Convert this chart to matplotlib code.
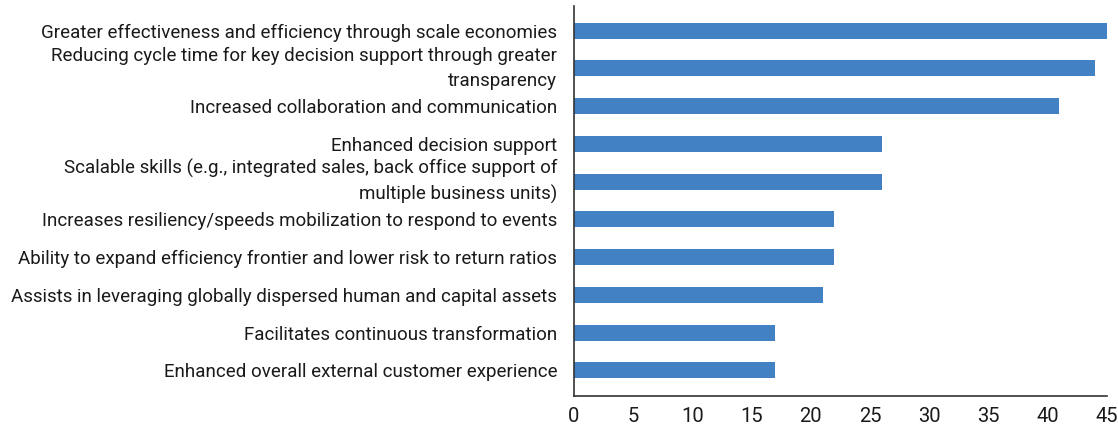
import matplotlib
matplotlib.use("Agg")
import matplotlib.pyplot as plt
from matplotlib import font_manager

categories = [
    "Greater effectiveness and efficiency through scale economies",
    "Reducing cycle time for key decision support through greater\ntransparency",
    "Increased collaboration and communication",
    "Enhanced decision support",
    "Scalable skills (e.g., integrated sales, back office support of\nmultiple business units)",
    "Increases resiliency/speeds mobilization to respond to events",
    "Ability to expand efficiency frontier and lower risk to return ratios",
    "Assists in leveraging globally dispersed human and capital assets",
    "Facilitates continuous transformation",
    "Enhanced overall external customer experience",
]
values = [45, 44, 41, 26, 26, 22, 22, 21, 17, 17]
xticks = [0, 5, 10, 15, 20, 25, 30, 35, 40, 45]

names = {f.name for f in font_manager.fontManager.ttflist}
family = "Liberation Sans Narrow" if "Liberation Sans Narrow" in names else (
    "Roboto" if "Roboto" in names else "Liberation Sans")
plt.rcParams["font.family"] = [family, "DejaVu Sans"]

fig = plt.figure(figsize=(11.18, 4.26), dpi=100)
ax = fig.add_axes([0.5134, 0.0704, 0.990 - 0.5134, 0.986 - 0.0704])

# fit label font size so that the longest label spans ~546 px
renderer = fig.canvas.get_renderer()
probe = fig.text(0, 0, categories[6], fontsize=13)
w = probe.get_window_extent(renderer).width
probe.remove()
fs = min(13.5, 13 * 546 / w)

y = list(range(len(categories)))
ax.barh(y, values, height=0.42, color="#4282C4")
ax.set_ylim(len(categories) - 1 + 0.68, -0.655)
ax.set_xlim(0, 45)
ax.set_xticks(xticks)
ax.set_xticklabels([str(t) for t in xticks], fontsize=fs + 1)
ax.set_yticks(y)
ax.set_yticklabels(categories, fontsize=fs, linespacing=1.45)
for lab in ax.get_yticklabels():
    if "\n" in lab.get_text():
        lab.set_verticalalignment("center")
ax.tick_params(axis="both", length=0, colors="#1a1a1a")
ax.tick_params(axis="y", pad=12)
ax.tick_params(axis="x", pad=8)
for s in ["top", "right"]:
    ax.spines[s].set_visible(False)
for s in ["left", "bottom"]:
    ax.spines[s].set_color("#333333")
    ax.spines[s].set_linewidth(1.2)

fig.savefig("out.png", dpi=100)
